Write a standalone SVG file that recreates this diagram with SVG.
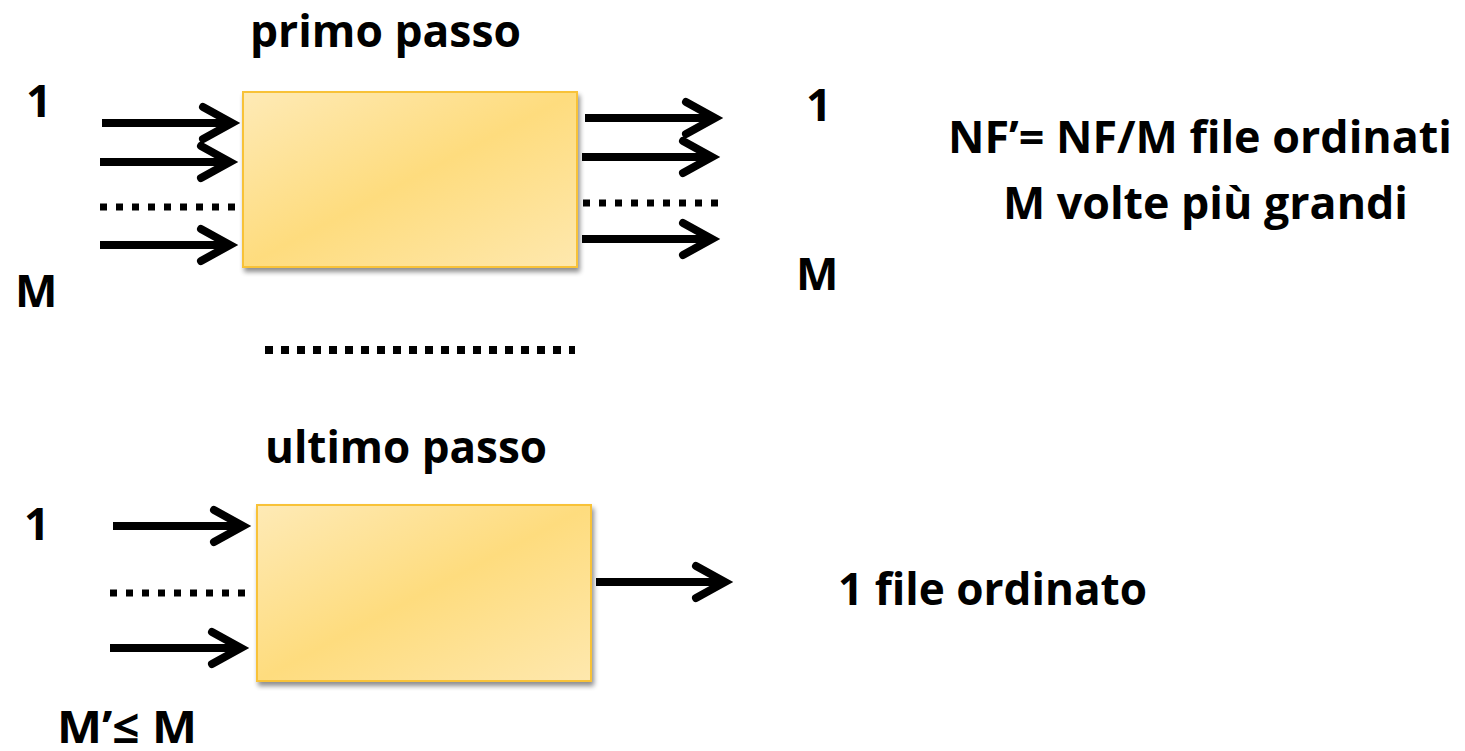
<svg xmlns="http://www.w3.org/2000/svg" width="1465" height="751" viewBox="0 0 1465 751">
<defs>
<linearGradient id="boxfill" x1="0" y1="0" x2="1" y2="1">
<stop offset="0" stop-color="#FEEAB6"/>
<stop offset="0.5" stop-color="#FEDC7E"/>
<stop offset="1" stop-color="#FEE8AE"/>
</linearGradient>
<filter id="shadow" x="-5%" y="-5%" width="115%" height="120%">
<feGaussianBlur in="SourceAlpha" stdDeviation="2.5"/>
<feOffset dx="2" dy="4" result="b"/>
<feComponentTransfer><feFuncA type="linear" slope="0.45"/></feComponentTransfer>
<feMerge><feMergeNode/><feMergeNode in="SourceGraphic"/></feMerge>
</filter>
<marker id="head" markerUnits="userSpaceOnUse" orient="auto" refX="0" refY="0" overflow="visible" markerWidth="10" markerHeight="10">
<path d="M-29,-16 L0,0 L-29,16" fill="none" stroke="#000" stroke-width="8" stroke-linecap="round" stroke-linejoin="miter"/>
</marker>
</defs>
<style>
.box{fill:url(#boxfill);stroke:#F8C239;stroke-width:2;filter:url(#shadow)}
.arr{stroke:#000;stroke-width:8;fill:none;marker-end:url(#head)}
.dot{stroke:#000;stroke-width:7;fill:none;stroke-dasharray:7 9}
.t{font-family:"Open Sans","Lato",sans-serif;font-weight:700;font-size:45px;fill:#000}
</style>
<g id="box-primo"><rect class="box" x="243" y="92" width="334" height="175"/></g>
<g id="box-ultimo"><rect class="box" x="257" y="505" width="334" height="176"/></g>
<g id="connectors">
<line class="arr" x1="102" y1="123" x2="232" y2="123"/>
<line class="arr" x1="100" y1="162" x2="230" y2="162"/>
<line class="dot" x1="100" y1="207" x2="236" y2="207"/>
<line class="arr" x1="100" y1="245" x2="230" y2="245"/>
<line class="arr" x1="585" y1="118" x2="715" y2="118"/>
<line class="arr" x1="582" y1="157" x2="712" y2="157"/>
<line class="dot" x1="583" y1="203" x2="719" y2="203"/>
<line class="arr" x1="582" y1="239" x2="712" y2="239"/>
<line class="dot" x1="265" y1="350" x2="575" y2="350" style="stroke-width:8;stroke-dasharray:8 8"/>
<line class="arr" x1="113" y1="526" x2="243" y2="526"/>
<line class="dot" x1="110" y1="593" x2="246" y2="593"/>
<line class="arr" x1="110" y1="648" x2="241" y2="648"/>
<line class="arr" x1="596" y1="582" x2="725" y2="582"/>
</g>
<g id="labels">
<text class="t" x="250" y="47" textLength="271" lengthAdjust="spacingAndGlyphs">primo passo</text>
<text class="t" x="26" y="117">1</text>
<text class="t" x="15" y="307">M</text>
<text class="t" x="806" y="121">1</text>
<text class="t" x="796" y="290">M</text>
<text class="t" x="948" y="153" textLength="504" lengthAdjust="spacingAndGlyphs">NF’= NF/M file ordinati</text>
<text class="t" x="1003" y="219" textLength="405" lengthAdjust="spacingAndGlyphs">M volte più grandi</text>
<text class="t" x="265" y="463" textLength="282" lengthAdjust="spacingAndGlyphs">ultimo passo</text>
<text class="t" x="24" y="540">1</text>
<text class="t" x="57" y="743" textLength="140" lengthAdjust="spacingAndGlyphs">M’≤ M</text>
<text class="t" x="838" y="605" textLength="309" lengthAdjust="spacingAndGlyphs">1 file ordinato</text>
</g>
</svg>
